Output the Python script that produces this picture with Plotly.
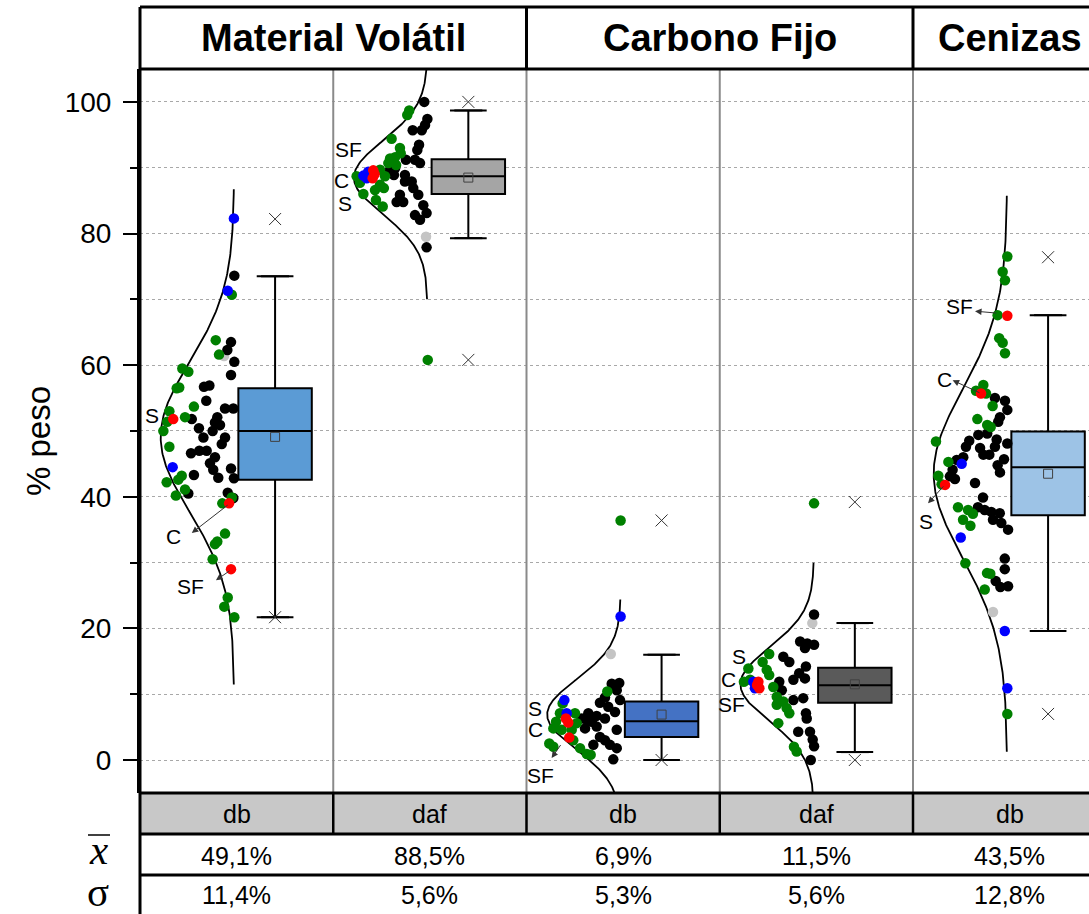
import numpy as np
import plotly.graph_objects as go

# ---------------- data ----------------
group_names = ["Material Volátil", "Carbono Fijo", "Cenizas"]
group_centers = [1.0, 3.0, 4.5]
basis_labels = ["db", "daf", "db", "daf", "db"]
mean_labels = ["49,1%", "88,5%", "6,9%", "11,5%", "43,5%"]
sd_labels = ["11,4%", "5,6%", "5,3%", "5,6%", "12,8%"]
means = [49.1, 88.5, 6.9, 11.5, 43.5]
sds = [11.4, 5.6, 5.3, 5.6, 12.8]

q1 = [42.6, 86.0, 3.5, 8.7, 37.2]
median = [50.0, 88.7, 5.9, 11.35, 44.5]
q3 = [56.5, 91.3, 8.9, 14.0, 49.9]
whisk_lo = [21.7, 79.3, 0.0, 1.2, 19.6]
whisk_hi = [73.5, 98.7, 16.0, 20.8, 67.6]
minimum = [21.7, 60.8, 0.0, 0.0, 7.0]
maximum = [82.2, 100.0, 36.4, 39.2, 76.4]
box_colors = ["#5b9bd5", "#a5a5a5", "#4472c4", "#5a5a5a", "#9dc3e6"]

# individual samples: value (% peso) and jitter (fraction of panel width)
black_v0 = [73.6, 63.5, 62.3, 60.5, 58.5, 56.7, 56.9, 54.6, 53.4, 53.4, 51.8, 52.1, 51.3, 50.9, 50.4, 50.0,
            49.0, 49.0, 48.0, 46.6, 47.0, 47.0, 46.0, 45.1, 44.1, 44.3, 43.3, 42.9, 42.8, 40.5, 40.6, 39.8]
black_j0 = [0.488, 0.471, 0.452, 0.488, 0.471, 0.331, 0.359, 0.343, 0.440, 0.483, 0.268, 0.400, 0.388, 0.414,
            0.305, 0.376, 0.328, 0.440, 0.423, 0.264, 0.307, 0.345, 0.388, 0.362, 0.379, 0.471, 0.279, 0.405,
            0.486, 0.250, 0.454, 0.483]
green_v0 = [70.7, 63.8, 61.6, 59.5, 59.0, 56.5, 56.6, 53.7, 53.0, 51.4, 50.0, 52.1, 47.6, 43.2, 42.6, 42.2,
            41.1, 40.2, 39.9, 39.0, 34.4, 33.2, 32.8, 30.5, 24.7, 23.3, 21.7]
green_j0 = [0.475, 0.392, 0.409, 0.219, 0.250, 0.190, 0.203, 0.279, 0.152, 0.141, 0.121, 0.233, 0.152, 0.216,
            0.198, 0.138, 0.233, 0.186, 0.475, 0.426, 0.440, 0.400, 0.388, 0.376, 0.454, 0.436, 0.488]
blue_v0 = [82.3, 71.3, 44.5]
blue_j0 = [0.486, 0.454, 0.169]
red_v0 = [51.8, 39.0, 29.0]
red_j0 = [0.172, 0.461, 0.471]
gray_v0 = [61.4]
gray_j0 = [0.435]

black_v1 = [100.0, 97.4, 96.5, 95.7, 95.7, 93.5, 92.7, 91.2, 91.2, 90.7, 89.9, 89.7, 88.9, 88.9, 87.9, 87.9,
            86.9, 85.9, 85.9, 84.8, 84.8, 84.3, 83.1, 82.8, 82.1, 77.9]
black_j1 = [0.471, 0.487, 0.475, 0.458, 0.411, 0.444, 0.435, 0.376, 0.423, 0.449, 0.320, 0.294, 0.314, 0.371,
            0.371, 0.406, 0.414, 0.440, 0.345, 0.328, 0.362, 0.466, 0.483, 0.423, 0.449, 0.483]
green_v1 = [98.7, 98.0, 94.4, 93.0, 92.2, 91.6, 91.4, 90.7, 90.4, 89.7, 88.7, 87.7, 88.7, 87.4, 86.6, 86.9,
            86.0, 85.1, 84.1, 60.8]
green_j1 = [0.393, 0.383, 0.302, 0.345, 0.349, 0.320, 0.294, 0.285, 0.325, 0.242, 0.121, 0.138, 0.268, 0.242,
            0.216, 0.262, 0.156, 0.221, 0.256, 0.489]
blue_v1 = [89.4, 88.4, 88.8]
blue_j1 = [0.181, 0.173, 0.156]
red_v1 = [89.6, 89.0, 88.4]
red_j1 = [0.207, 0.214, 0.204]
gray_v1 = [79.5]
gray_j1 = [0.480]

black_v2 = [11.6, 11.7, 10.6, 9.5, 9.1, 8.7, 8.1, 7.3, 7.1, 6.7, 6.3, 6.1, 5.8, 5.1, 4.8, 3.5, 2.3, 1.8, 2.3,
            0.1, 6.3, 4.6, 3.0]
black_j2 = [0.441, 0.480, 0.467, 0.406, 0.484, 0.380, 0.423, 0.458, 0.320, 0.363, 0.406, 0.312, 0.338, 0.363,
            0.303, 0.380, 0.432, 0.467, 0.346, 0.449, 0.286, 0.467, 0.406]
green_v2 = [36.4, 10.4, 8.6, 7.1, 7.1, 5.8, 5.6, 4.8, 4.6, 4.6, 2.5, 2.0, 1.8, 0.9, 0.8, 3.0]
green_j2 = [0.487, 0.418, 0.187, 0.173, 0.251, 0.153, 0.260, 0.139, 0.182, 0.234, 0.118, 0.139, 0.277, 0.312,
            0.332, 0.242]
blue_v2 = [21.8, 9.1, 7.1]
blue_j2 = [0.487, 0.196, 0.208]
red_v2 = [6.3, 5.7, 3.4]
red_j2 = [0.204, 0.216, 0.221]
gray_v2 = [16.1]
gray_j2 = [0.436]

black_v3 = [22.1, 18.0, 17.7, 17.5, 17.0, 15.7, 14.9, 14.2, 13.2, 12.2, 12.4, 11.9, 10.6, 9.1, 9.4, 7.1, 6.3,
            4.3, 4.3, 3.1, 2.1, 0.0]
black_j3 = [0.488, 0.416, 0.453, 0.488, 0.441, 0.329, 0.360, 0.446, 0.411, 0.381, 0.441, 0.308, 0.321, 0.381,
            0.432, 0.446, 0.450, 0.406, 0.467, 0.481, 0.488, 0.471]
green_v3 = [39.0, 16.1, 14.9, 13.9, 13.7, 12.9, 11.9, 12.2, 11.1, 9.6, 8.9, 8.4, 7.9, 7.1, 5.6, 2.0, 1.3]
green_j3 = [0.488, 0.256, 0.222, 0.148, 0.243, 0.256, 0.125, 0.157, 0.277, 0.295, 0.329, 0.295, 0.346, 0.360,
            0.303, 0.384, 0.398]
blue_v3 = [11.9, 10.9]
blue_j3 = [0.174, 0.182]
red_v3 = [11.9, 11.4, 10.9]
red_j3 = [0.200, 0.193, 0.205]
gray_v3 = [20.8]
gray_j3 = [0.479]

black_v4 = [55.0, 54.6, 53.2, 52.1, 51.4, 49.4, 49.6, 48.7, 48.5, 48.1, 47.6, 47.4, 47.6, 46.4, 46.4, 46.0,
            45.7, 45.6, 44.8, 44.1, 43.7, 43.1, 42.7, 42.1, 39.9, 38.4, 38.0, 37.7, 37.5, 36.5, 36.0, 35.0,
            30.6, 29.0, 27.2, 26.3, 26.4]
black_j4 = [0.424, 0.476, 0.488, 0.450, 0.441, 0.338, 0.384, 0.433, 0.291, 0.488, 0.274, 0.347, 0.424, 0.364,
            0.395, 0.260, 0.471, 0.226, 0.438, 0.205, 0.450, 0.191, 0.217, 0.321, 0.362, 0.336, 0.371, 0.405,
            0.449, 0.414, 0.457, 0.492, 0.475, 0.475, 0.428, 0.452, 0.492]
green_v4 = [76.5, 74.2, 72.9, 67.6, 64.1, 63.4, 61.8, 57.0, 56.1, 55.7, 53.8, 51.8, 50.9, 50.6, 48.4, 45.3,
            43.2, 41.9, 38.4, 38.0, 37.4, 36.5, 35.6, 29.9, 28.4, 28.3, 25.9, 7.0]
green_j4 = [0.488, 0.464, 0.476, 0.438, 0.446, 0.464, 0.476, 0.364, 0.326, 0.378, 0.412, 0.333, 0.384, 0.402,
            0.119, 0.183, 0.131, 0.148, 0.233, 0.285, 0.310, 0.259, 0.297, 0.271, 0.383, 0.400, 0.371, 0.488]
blue_v4 = [45.0, 33.8, 19.6, 10.9]
blue_j4 = [0.252, 0.247, 0.475, 0.488]
red_v4 = [67.5, 55.7, 41.8]
red_j4 = [0.488, 0.352, 0.166]
gray_v4 = [22.5]
gray_j4 = [0.414]

# sample labels: (panel, jitter, value, text)
label_panel = [0, 0, 0, 1, 1, 1, 2, 2, 2, 3, 3, 3, 4, 4, 4]
label_jit = [0.064, 0.172, 0.259, 0.081, 0.045, 0.061, 0.044, 0.044, 0.070, 0.101, 0.044, 0.062, 0.069, 0.161, 0.243]
label_val = [52.4, 34.0, 26.3, 92.7, 88.0, 84.6, 7.9, 4.6, -2.3, 15.7, 12.2, 8.4, 36.2, 57.8, 68.9]
label_txt = ["S", "C", "SF", "SF", "C", "S", "S", "C", "SF", "S", "C", "SF", "S", "C", "SF"]
# leader arrows: panel, from (jitter,value) of sample to (jitter,value) near label
arrow_panel = [0, 0, 2, 4, 4, 4]
arrow_from_j = [0.461, 0.471, 0.182, 0.164, 0.352, 0.438]
arrow_from_v = [38.9, 28.9, 2.5, 41.8, 55.7, 67.9]
arrow_to_j = [0.268, 0.393, 0.130, 0.078, 0.205, 0.321]
arrow_to_v = [34.5, 27.3, 0.3, 39.0, 57.7, 68.2]

# ---------------- geometry ----------------
W, H = 1089, 914
ML, MT, MB = 140, 69, 121
PANEL_PX = 193.25
XMAX = (W - ML) / PANEL_PX
YMIN, YMAX = -5.015, 105.0
CURVE_BASE, CURVE_AMP = 0.487, 0.380
BOX_POS, BOX_W = 0.699, 0.38


def xpap(d):
    return d / XMAX


def xpx(px):
    return (px - ML) / (W - ML)


def ypap(py):
    return (H - MB - py) / (H - MT - MB)


fig = go.Figure()

# normal curves
for k in range(5):
    z = np.linspace(-3.3, 3.3, 300)
    fig.add_trace(go.Scatter(x=k + CURVE_BASE - CURVE_AMP * np.exp(-0.5 * z ** 2), y=means[k] + z * sds[k],
                             mode="lines", line=dict(color="black", width=1.8), hoverinfo="skip"))

# sample points
series = {
    "#c4c4c4": [(gray_v0, gray_j0), (gray_v1, gray_j1), (gray_v2, gray_j2), (gray_v3, gray_j3), (gray_v4, gray_j4)],
    "#000000": [(black_v0, black_j0), (black_v1, black_j1), (black_v2, black_j2), (black_v3, black_j3), (black_v4, black_j4)],
    "#008000": [(green_v0, green_j0), (green_v1, green_j1), (green_v2, green_j2), (green_v3, green_j3), (green_v4, green_j4)],
    "#0000ff": [(blue_v0, blue_j0), (blue_v1, blue_j1), (blue_v2, blue_j2), (blue_v3, blue_j3), (blue_v4, blue_j4)],
    "#ff0000": [(red_v0, red_j0), (red_v1, red_j1), (red_v2, red_j2), (red_v3, red_j3), (red_v4, red_j4)],
}
for color, parts in series.items():
    xs, ys = [], []
    for k, (v, j) in enumerate(parts):
        xs += [k + jj for jj in j]
        ys += list(v)
    fig.add_trace(go.Scatter(x=xs, y=ys, mode="markers", marker=dict(color=color, size=10.5, line=dict(width=0)),
                             hoverinfo="skip"))

# boxes
for k in range(5):
    fig.add_trace(go.Box(x=[k + BOX_POS], q1=[q1[k]], median=[median[k]], q3=[q3[k]],
                         lowerfence=[whisk_lo[k]], upperfence=[whisk_hi[k]], width=BOX_W,
                         fillcolor=box_colors[k], line=dict(color="black", width=2),
                         boxpoints=False, hoverinfo="skip"))

bx = [k + BOX_POS for k in range(5)]
fig.add_trace(go.Scatter(x=bx + bx, y=whisk_lo + whisk_hi, mode="markers",
                         marker=dict(symbol="line-ew", size=20, line=dict(color="black", width=2)), hoverinfo="skip"))
fig.add_trace(go.Scatter(x=bx, y=means, mode="markers",
                         marker=dict(symbol="square-open", size=9, color="#404040", line=dict(width=1)), hoverinfo="skip"))
fig.add_trace(go.Scatter(x=bx + bx, y=minimum + maximum, mode="markers",
                         marker=dict(symbol="x-thin", size=12, color="#333333", line=dict(color="#333333", width=1)),
                         hoverinfo="skip"))

# ---------------- frame, header, table ----------------
shapes = []
ytop = ypap(7)
yrow1 = ypap(834)
yrow2 = ypap(875)
ybot = ypap(914) - 0.02
for k in range(1, 5):
    shapes.append(dict(type="line", xref="paper", yref="paper", x0=xpap(k), x1=xpap(k), y0=0, y1=1,
                       line=dict(color="#8a8a8a", width=2)))
shapes.append(dict(type="rect", xref="paper", yref="paper", x0=0, x1=1, y0=yrow1, y1=0,
                   fillcolor="#c8c8c8", line=dict(width=0), layer="below"))
for k in range(1, 5):
    shapes.append(dict(type="line", xref="paper", yref="paper", x0=xpap(k), x1=xpap(k), y0=yrow1, y1=0,
                       line=dict(color="black", width=2.5)))
for yy in [ytop, 1, 0, yrow1, yrow2]:
    shapes.append(dict(type="line", xref="paper", yref="paper", x0=0, x1=1, y0=yy, y1=yy,
                       line=dict(color="black", width=3)))
for k in [2, 4]:
    shapes.append(dict(type="line", xref="paper", yref="paper", x0=xpap(k), x1=xpap(k), y0=1, y1=ytop,
                       line=dict(color="black", width=3)))
shapes.append(dict(type="line", xref="paper", yref="paper", x0=0, x1=0, y0=ybot, y1=ytop,
                   line=dict(color="black", width=3)))
# bar of the x-mean symbol
shapes.append(dict(type="line", xref="paper", yref="paper", x0=xpx(88), x1=xpx(110),
                   y0=ypap(835), y1=ypap(835), line=dict(color="black", width=1.5)))

ann = []


def txt(x, y, text, size, xref="x", yref="paper", family="Liberation Sans", **kw):
    ann.append(dict(x=x, y=y, xref=xref, yref=yref, text=text, showarrow=False, xanchor="center",
                    yanchor="middle", font=dict(family=family, size=size, color="black"), **kw))


for name, c in zip(group_names, group_centers):
    txt(c, ypap(38), "<b>%s</b>" % name, 38)
for k in range(5):
    txt(k + 0.5, ypap(814), basis_labels[k], 25)
    txt(k + 0.5, ypap(856), mean_labels[k], 25)
    txt(k + 0.5, ypap(895), sd_labels[k], 25)
txt(xpx(98), ypap(850), "<i>x</i>", 41, xref="paper", family="Liberation Serif")
txt(xpx(98), ypap(892), "σ", 41, xref="paper", family="Liberation Serif")
txt(xpx(38), ypap(441), "% peso", 33, xref="paper", textangle=-90)
for p, j, v, t in zip(label_panel, label_jit, label_val, label_txt):
    txt(p + j, v, t, 21, yref="y")
for p, fj, fv, tj, tv in zip(arrow_panel, arrow_from_j, arrow_from_v, arrow_to_j, arrow_to_v):
    ann.append(dict(x=p + tj, y=tv, ax=p + fj, ay=fv, xref="x", yref="y", axref="x", ayref="y", text="",
                    showarrow=True, arrowhead=2, arrowsize=1.3, arrowwidth=1, arrowcolor="#333333"))

fig.update_layout(
    width=W, height=H, autosize=False,
    margin=dict(l=ML, r=0, t=MT, b=MB, pad=0),
    plot_bgcolor="white", paper_bgcolor="white", showlegend=False, boxmode="overlay",
    xaxis=dict(range=[0, XMAX], visible=False, fixedrange=True),
    yaxis=dict(range=[YMIN, YMAX], tick0=0, dtick=20, ticks="outside", ticklen=14, tickwidth=2,
               tickcolor="black", showline=True, linewidth=3, linecolor="black", showgrid=True,
               gridcolor="#a8a8a8", griddash="dot", gridwidth=1, zeroline=False, fixedrange=True,
               ticklabelstandoff=6,
               tickfont=dict(family="Liberation Sans", size=28, color="black"),
               minor=dict(dtick=10, tick0=0, ticks="outside", ticklen=7, tickwidth=2, tickcolor="black",
                          showgrid=True, gridcolor="#a8a8a8", griddash="dot", gridwidth=1)),
    shapes=shapes, annotations=ann,
)

fig.write_html("out.html", config={"displayModeBar": False, "staticPlot": True},
               post_script="document.body.style.margin='0px';document.body.style.overflow='hidden';")
